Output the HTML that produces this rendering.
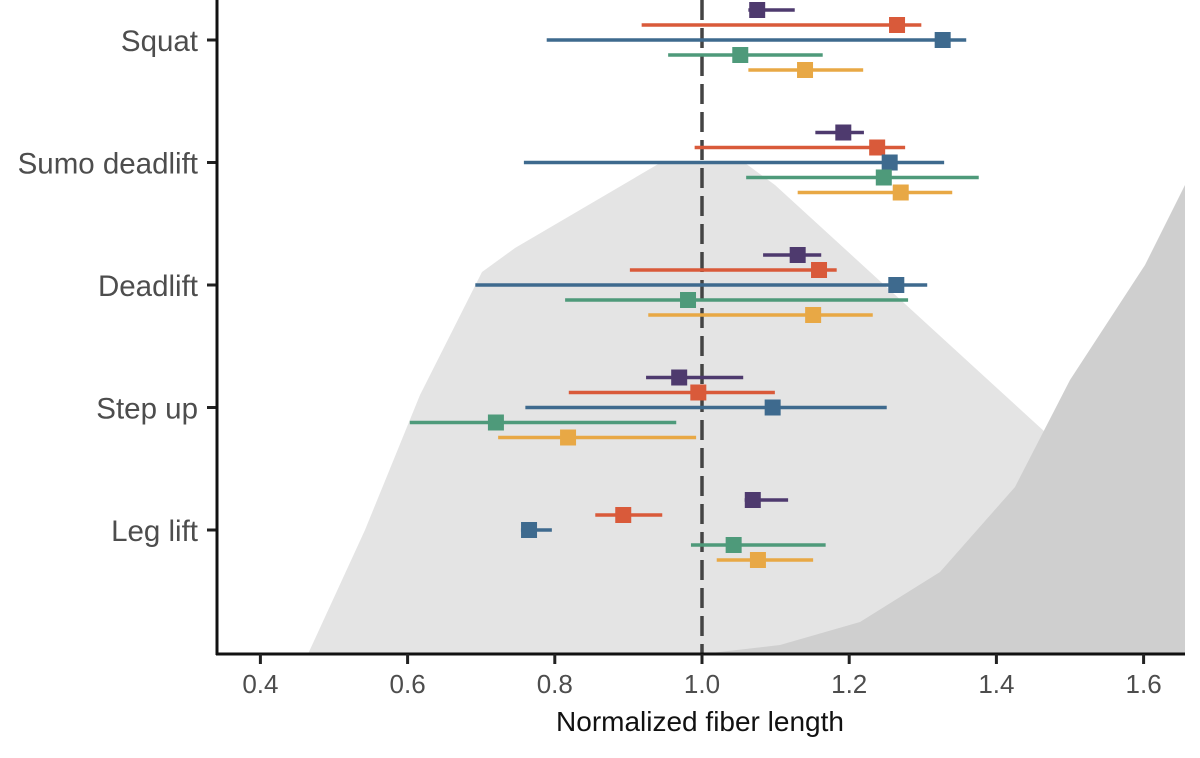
<!DOCTYPE html>
<html><head><meta charset="utf-8"><style>
html,body{margin:0;padding:0;background:#fff;}
svg{display:block;font-family:"Liberation Sans",Arial,sans-serif;}
</style></head><body>
<svg id="chart" width="1200" height="758" viewBox="0 0 1200 758">
<g id="bg">
<polygon fill="#e4e4e4" points="308,654 365,530 420,395 482,272 515,248 660,163 745,163 775,185 1045,432 1100,520 1100,654"/>
<polygon fill="#cfcfcf" points="702,654 780,645 860,622 940,572 1015,487 1070,380 1145,265 1185,185 1185,654"/>
</g>
<g id="marks"></g>
<g id="axes"></g>
</svg>
<script>
const categories = ["Squat","Sumo deadlift","Deadlift","Step up","Leg lift"];
const seriesColors = ["#4e3a6e","#d95a3a","#3e6a8e","#4e9a7a","#e8a845"];
const estimates = [
 [1.075,1.265,1.327,1.052,1.140],
 [1.192,1.238,1.255,1.247,1.270],
 [1.130,1.159,1.264,0.981,1.151],
 [0.969,0.995,1.096,0.720,0.818],
 [1.069,0.893,0.765,1.043,1.076]];
const lower = [
 [1.063,0.918,0.789,0.954,1.063],
 [1.154,0.990,0.758,1.060,1.130],
 [1.083,0.902,0.692,0.814,0.927],
 [0.924,0.819,0.760,0.603,0.723],
 [1.058,0.855,0.754,0.985,1.020]];
const upper = [
 [1.126,1.298,1.359,1.164,1.219],
 [1.220,1.276,1.329,1.376,1.340],
 [1.162,1.183,1.306,1.280,1.232],
 [1.056,1.099,1.251,0.965,0.992],
 [1.117,0.946,0.796,1.168,1.151]];
const xTicks = [0.4,0.6,0.8,1.0,1.2,1.4,1.6];
const xTickLabels = ["0.4","0.6","0.8","1.0","1.2","1.4","1.6"];

const NS="http://www.w3.org/2000/svg";
const xScale = v => 702 + (v-1)*736;
const yScale = i => 40 + i*122.5;
function mk(tag, attrs, parent){const e=document.createElementNS(NS,tag);for(const k in attrs)e.setAttribute(k,attrs[k]);parent.appendChild(e);return e;}
const marks=document.getElementById('marks');
const axes=document.getElementById('axes');

const ref = mk('line',{x1:xScale(1),x2:xScale(1),y1:0,y2:654,stroke:'#444',"stroke-width":3.5,"stroke-dasharray":"20,8"},marks);



categories.forEach((c,i)=>{
  for(let j=0;j<5;j++){
    const yy=yScale(i)+(j-2)*15;
    const ln=mk('line',{x1:xScale(lower[i][j]),x2:xScale(upper[i][j]),y1:yy,y2:yy,stroke:seriesColors[j],"stroke-width":3.5},marks);
    
    
    const pt=mk('rect',{x:xScale(estimates[i][j])-8,y:yy-8,width:16,height:16,fill:seriesColors[j]},marks);
    
    
  }
  const tk=mk('line',{x1:207,x2:217,y1:yScale(i),y2:yScale(i),stroke:'#222',"stroke-width":3},axes);
  
  
  const lb=mk('text',{x:198,y:yScale(i)+11,"text-anchor":"end","font-size":29.5,fill:'#4d4d4d'},axes);
  lb.textContent=c;
  
  
});
const ya=mk('line',{x1:217,x2:217,y1:0,y2:655,stroke:'#111',"stroke-width":3},axes);


const xa=mk('line',{x1:216,x2:1185,y1:654,y2:654,stroke:'#111',"stroke-width":3},axes);


xTicks.forEach((t,k)=>{
  const tk=mk('line',{x1:xScale(t),x2:xScale(t),y1:654,y2:664,stroke:'#222',"stroke-width":3},axes);
  
  
  const lb=mk('text',{x:xScale(t),y:693,"text-anchor":"middle","font-size":26,fill:'#4d4d4d'},axes);
  lb.textContent=xTickLabels[k];
  
  
});
const tt=mk('text',{x:700,y:731,"text-anchor":"middle","font-size":28,fill:'#111'},axes);
tt.textContent="Normalized fiber length";


</script>
</body></html>
